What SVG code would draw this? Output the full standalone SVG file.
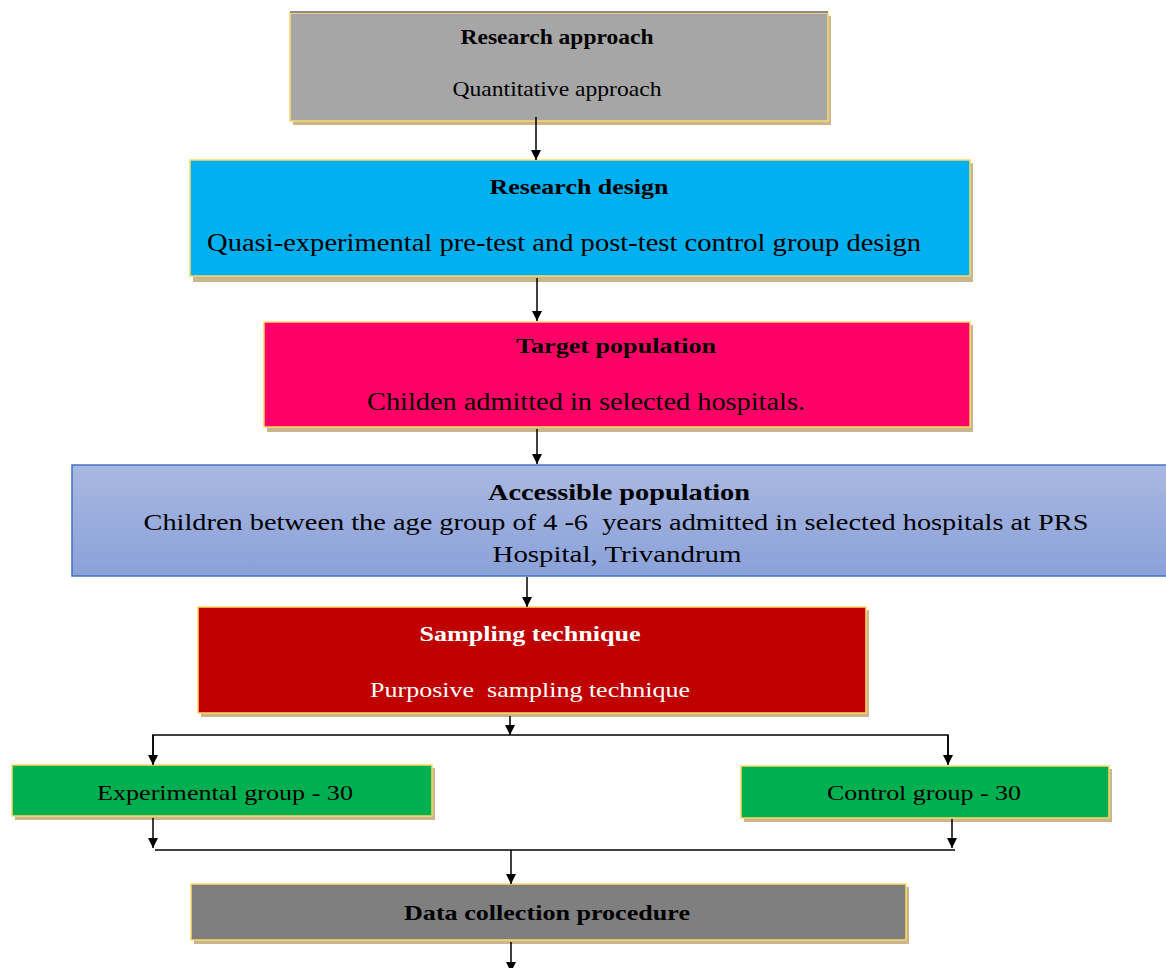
<svg xmlns="http://www.w3.org/2000/svg" width="1166" height="968" viewBox="0 0 1166 968">
<style>
.box{stroke:#FFD966;stroke-width:1.5}
.sh{fill:#C8B78E}
.t{font-family:"Liberation Serif","Times New Roman",serif;fill:#000;text-anchor:middle;white-space:pre}
.b{font-weight:bold}
.w{fill:#fff}
.c{stroke:#000;stroke-width:1.5;fill:none}
</style>
<defs>
<marker id="ah" viewBox="0 0 10 10" refX="10" refY="5" markerWidth="10" markerHeight="10" markerUnits="userSpaceOnUse" orient="auto">
<path d="M0,0 L10,5 L0,10 Z" fill="#000"/>
</marker>
<linearGradient id="gacc" x1="0" y1="0" x2="0" y2="1">
<stop offset="0" stop-color="#A9B8E1"/>
<stop offset="1" stop-color="#8AA1D9"/>
</linearGradient>
</defs>
<rect width="1166" height="968" fill="#fff"/>

<g id="n1">
<rect x="293" y="16" width="538" height="109" class="sh"/>
<rect x="290" y="13" width="538" height="108" fill="#A6A6A6" class="box"/>
<line x1="290" y1="12" x2="828" y2="12" stroke="#8C8C8C" stroke-width="2"/>
<text x="557" y="44" class="t b" font-size="22" textLength="193" lengthAdjust="spacingAndGlyphs">Research approach</text>
<text x="557" y="96" class="t" font-size="22" textLength="209" lengthAdjust="spacingAndGlyphs">Quantitative approach</text>
</g>

<g id="n2">
<rect x="193" y="163" width="780" height="119" class="sh"/>
<rect x="190" y="160" width="780" height="116" fill="#00B0F0" class="box"/>
<text x="579" y="194" class="t b" font-size="22" textLength="179" lengthAdjust="spacingAndGlyphs">Research design</text>
<text x="564" y="251" class="t" font-size="26" textLength="714" lengthAdjust="spacingAndGlyphs">Quasi-experimental pre-test and post-test control group design</text>
</g>

<g id="n3">
<rect x="267" y="325" width="706" height="107" class="sh"/>
<rect x="264" y="322" width="706" height="105" fill="#FF0066" class="box"/>
<text x="616" y="353" class="t b" font-size="22" textLength="200" lengthAdjust="spacingAndGlyphs">Target population</text>
<text x="586" y="410" class="t" font-size="26" textLength="438" lengthAdjust="spacingAndGlyphs">Childen admitted in selected hospitals.</text>
</g>

<g id="n4">
<rect x="72" y="465" width="1100" height="111" fill="url(#gacc)" stroke="#4472C4" stroke-width="1.5"/>
<text x="619" y="500" class="t b" font-size="24" textLength="262" lengthAdjust="spacingAndGlyphs">Accessible population</text>
<text x="616" y="530" class="t" font-size="24" textLength="945" lengthAdjust="spacingAndGlyphs">Children between the age group of 4 -6  years admitted in selected hospitals at PRS</text>
<text x="617" y="562" class="t" font-size="24" textLength="249" lengthAdjust="spacingAndGlyphs">Hospital, Trivandrum</text>
</g>

<g id="n5">
<rect x="201" y="610" width="668" height="107" class="sh"/>
<rect x="198" y="607" width="668" height="106" fill="#C00000" class="box"/>
<text x="530" y="641" class="t b w" font-size="22" textLength="221" lengthAdjust="spacingAndGlyphs">Sampling technique</text>
<text x="530" y="697" class="t w" font-size="22" textLength="320" lengthAdjust="spacingAndGlyphs">Purposive  sampling technique</text>
</g>

<g id="n6">
<rect x="15" y="768" width="420" height="52" class="sh"/>
<rect x="12" y="765" width="420" height="51" fill="#00B050" class="box"/>
<text x="225" y="800" class="t" font-size="22" textLength="256" lengthAdjust="spacingAndGlyphs">Experimental group - 30</text>
</g>

<g id="n7">
<rect x="744" y="769" width="368" height="53" class="sh"/>
<rect x="741" y="766" width="368" height="52" fill="#00B050" class="box"/>
<text x="924" y="800" class="t" font-size="22" textLength="194" lengthAdjust="spacingAndGlyphs">Control group - 30</text>
</g>

<g id="n8">
<rect x="194" y="887" width="715" height="57" class="sh"/>
<rect x="191" y="884" width="715" height="56" fill="#7F7F7F" class="box"/>
<text x="547" y="920" class="t b" font-size="22" textLength="286" lengthAdjust="spacingAndGlyphs">Data collection procedure</text>
</g>

<g id="connectors">
<line x1="536" y1="117" x2="536" y2="160" class="c" marker-end="url(#ah)"/>
<line x1="537" y1="278" x2="537" y2="321" class="c" marker-end="url(#ah)"/>
<line x1="537" y1="429" x2="537" y2="464" class="c" marker-end="url(#ah)"/>
<line x1="527" y1="577" x2="527" y2="607" class="c" marker-end="url(#ah)"/>
<line x1="510" y1="716" x2="510" y2="735" class="c" marker-end="url(#ah)"/>
<path d="M153,763 V735 H948 V763" class="c"/>
<line x1="153" y1="735" x2="153" y2="765" class="c" marker-end="url(#ah)"/>
<line x1="948" y1="735" x2="948" y2="765" class="c" marker-end="url(#ah)"/>
<line x1="153" y1="818" x2="153" y2="848" class="c" marker-end="url(#ah)"/>
<line x1="952" y1="819" x2="952" y2="848" class="c" marker-end="url(#ah)"/>
<line x1="155" y1="850" x2="955" y2="850" class="c"/>
<line x1="511" y1="850" x2="511" y2="884" class="c" marker-end="url(#ah)"/>
<line x1="511" y1="942" x2="511" y2="972" class="c" marker-end="url(#ah)"/>
</g>
</svg>
